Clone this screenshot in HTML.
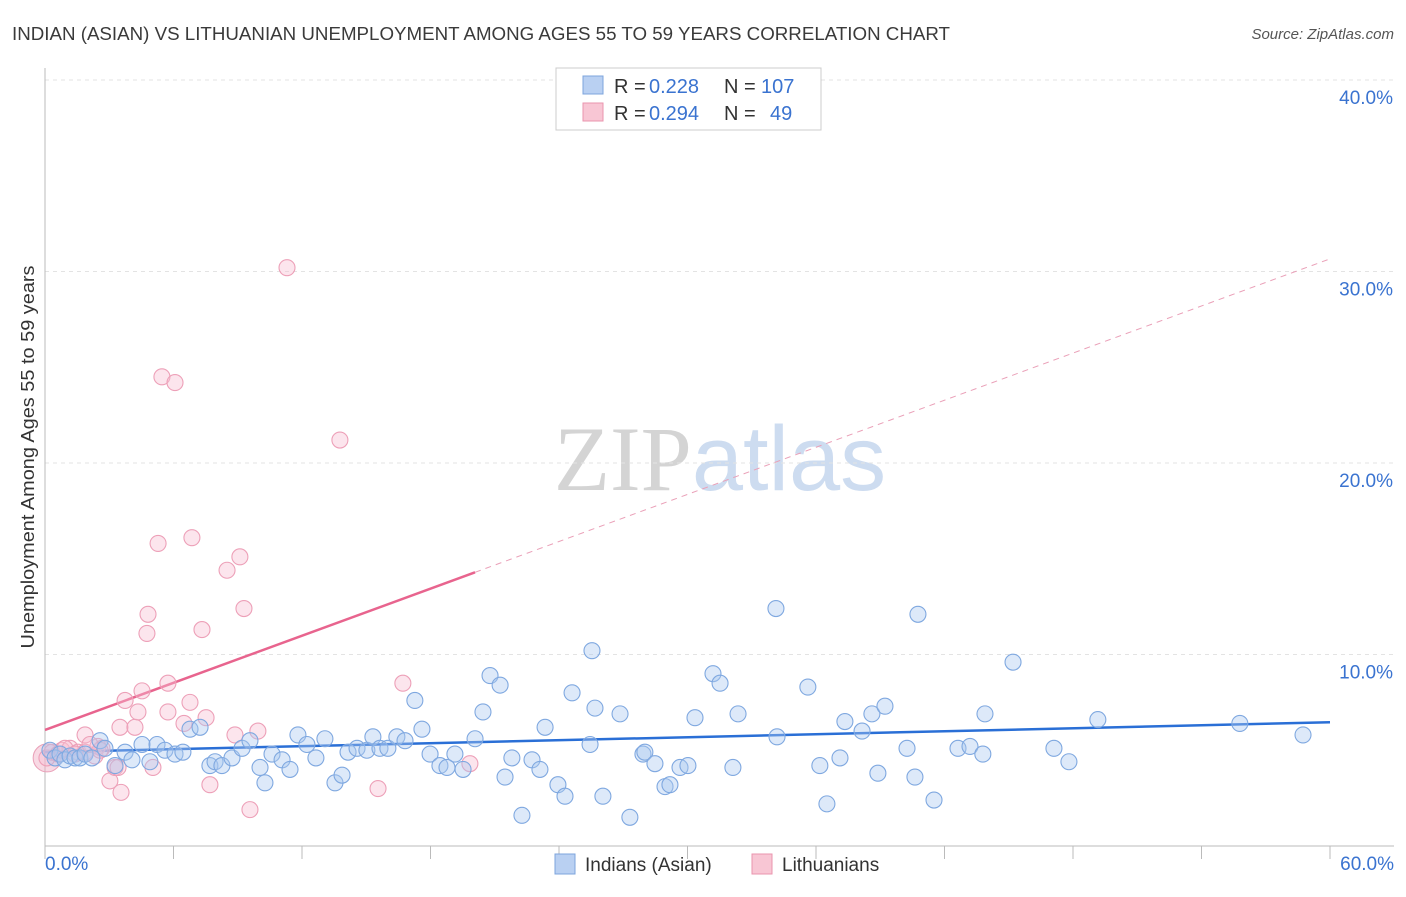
<!DOCTYPE html>
<html><head><meta charset="utf-8">
<style>
body{margin:0;background:#fff;font-family:"Liberation Sans",sans-serif;}
svg text{font-family:"Liberation Sans",sans-serif;}
</style></head>
<body>
<svg id="chart" width="1406" height="892" xmlns="http://www.w3.org/2000/svg" xml:space="preserve">
<text x="12" y="40" font-size="18" fill="#3a3a3a" textLength="938" lengthAdjust="spacingAndGlyphs">INDIAN (ASIAN) VS LITHUANIAN UNEMPLOYMENT AMONG AGES 55 TO 59 YEARS CORRELATION CHART</text>
<text x="1394" y="39" font-size="15" fill="#555" text-anchor="end" font-style="italic">Source: ZipAtlas.com</text>
<text x="720" y="490" font-size="92" text-anchor="middle" fill="#ddd"><tspan font-family="Liberation Serif" fill="#d4d4d4">ZIP</tspan><tspan fill="#cddcf0">atlas</tspan></text>
<g id="grid"></g>
<g id="axes"></g>
<g id="trends"></g>
<g id="points"></g>
<text transform="translate(34,457) rotate(-90)" font-size="18" fill="#333" text-anchor="middle" textLength="383" lengthAdjust="spacingAndGlyphs">Unemployment Among Ages 55 to 59 years</text>
<g>
<rect x="556" y="68" width="265" height="62" fill="#fff" stroke="#ccc"/>
<rect x="583" y="76" width="20" height="18" fill="#b9d0f2" stroke="#7da4dc"/>
<rect x="583" y="103" width="20" height="18" fill="#f8c6d4" stroke="#ea94ae"/>
<text x="614" y="93" font-size="20" fill="#333">R = </text><text x="649" y="93" font-size="20" fill="#3a73d0">0.228</text>
<text x="724" y="93" font-size="20" fill="#333">N = </text><text x="761" y="93" font-size="20" fill="#3a73d0">107</text>
<text x="614" y="120" font-size="20" fill="#333">R = </text><text x="649" y="120" font-size="20" fill="#3a73d0">0.294</text>
<text x="724" y="120" font-size="20" fill="#333">N = </text><text x="770" y="120" font-size="20" fill="#3a73d0">49</text>
</g>
<g>
<rect x="555" y="854" width="20" height="20" fill="#b9d0f2" stroke="#7da4dc"/>
<text x="585" y="871" font-size="19" fill="#333">Indians (Asian)</text>
<rect x="752" y="854" width="20" height="20" fill="#f8c6d4" stroke="#ea94ae"/>
<text x="782" y="871" font-size="19" fill="#333">Lithuanians</text>
</g>
</svg>
<script>
const blueX=[0.23,0.47,0.70,0.93,1.17,1.40,1.63,1.87,2.19,2.57,2.80,3.27,3.74,4.06,4.53,4.90,5.23,5.60,6.07,6.44,6.77,7.24,7.70,7.94,8.26,8.73,9.20,9.57,10.04,10.27,10.60,11.07,11.44,11.81,12.23,12.65,13.07,13.54,13.87,14.15,14.57,15.03,15.31,15.64,16.01,16.43,16.81,17.27,17.60,17.98,18.44,18.77,19.14,19.52,20.08,20.45,20.78,21.25,21.48,21.80,22.27,22.74,23.11,23.35,23.95,24.28,24.61,25.45,25.54,25.68,26.05,26.85,27.31,27.92,28.01,28.48,28.95,29.18,29.65,30.02,30.35,31.19,31.52,32.12,32.36,34.13,34.18,35.62,36.18,36.51,37.12,37.35,38.15,38.61,38.89,39.22,40.25,40.62,40.76,41.51,42.63,43.19,43.79,43.89,45.20,47.11,47.81,49.16,55.79,58.74];
const blueY=[5.0,4.6,4.8,4.5,4.7,4.6,4.6,4.8,4.6,5.5,5.1,4.2,4.9,4.5,5.3,4.4,5.3,5.0,4.8,4.9,6.1,6.2,4.2,4.4,4.2,4.6,5.1,5.5,4.1,3.3,4.8,4.5,4.0,5.8,5.3,4.6,5.6,3.3,3.7,4.9,5.1,5.0,5.7,5.1,5.1,5.7,5.5,7.6,6.1,4.8,4.2,4.1,4.8,4.0,5.6,7.0,8.9,8.4,3.6,4.6,1.6,4.5,4.0,6.2,3.2,2.6,8.0,5.3,10.2,7.2,2.6,6.9,1.5,4.8,4.9,4.3,3.1,3.2,4.1,4.2,6.7,9.0,8.5,4.1,6.9,12.4,5.7,8.3,4.2,2.2,4.6,6.5,6.0,6.9,3.8,7.3,5.1,3.6,12.1,2.4,5.1,5.2,4.8,6.9,9.6,5.1,4.4,6.6,6.4,5.8];
const pinkX=[0.09,0.33,0.61,0.79,1.17,1.54,1.87,2.33,2.47,2.66,3.03,3.27,3.55,3.74,3.50,4.20,4.34,4.53,4.76,4.81,5.04,5.28,5.46,5.74,5.74,6.07,6.49,6.77,6.86,7.33,7.52,7.70,8.50,8.87,9.10,9.29,9.57,9.94,11.30,13.77,15.55,16.71,19.84,1.87,2.57,0.93,1.40,2.10,3.41];
const pinkY=[4.6,4.9,4.8,5.0,5.1,4.9,4.9,4.7,5.2,5.1,3.4,4.1,2.8,7.6,6.2,6.2,7.0,8.1,11.1,12.1,4.1,15.8,24.5,7.0,8.5,24.2,6.4,7.5,16.1,11.3,6.7,3.2,14.4,5.8,15.1,12.4,1.9,6.0,30.2,21.2,3.0,8.5,4.3,5.8,5.0,5.1,4.8,5.3,4.1];
const blueTrend=[4.9,0.026];
const pinkTrend=[6.06,0.41];
const pinkSolidEnd=[20.08];
const xTicks=[0,6,12,18,24,30,36,42,48,54,60];
const yTicks=[10,20,30,40];
const yTickLabels=["10.0%","20.0%","30.0%","40.0%"];

const NS="http://www.w3.org/2000/svg";
const X0=45,X1=1330,Y0=846,PPY=19.15;
function sx(v){return X0+(v/60)*(X1-X0);}
function sy(v){return Y0-v*PPY;}
function mk(tag,attrs,parent){const e=document.createElementNS(NS,tag);for(const k in attrs)e.setAttribute(k,attrs[k]);parent.appendChild(e);return e;}
const grid=document.getElementById('grid'),axes=document.getElementById('axes'),trends=document.getElementById('trends'),pts=document.getElementById('points');
yTicks.forEach((t,i)=>{
  const l=mk('line',{x1:X0,x2:1394,y1:sy(t),y2:sy(t),stroke:'#e3e3e3','stroke-dasharray':'4,4'},grid);
  
  
  const tx=mk('text',{x:1393,y:sy(t)+24,'font-size':19,fill:'#3a73d0','text-anchor':'end'},axes);
  tx.textContent=yTickLabels[i];
  
  
});
const al=mk('line',{x1:X0,x2:X0,y1:68,y2:Y0,stroke:'#bbb'},axes);


const bl=mk('line',{x1:X0,x2:1394,y1:Y0,y2:Y0,stroke:'#bbb'},axes);


xTicks.forEach(t=>{
  const l=mk('line',{x1:sx(t),x2:sx(t),y1:Y0,y2:Y0+13,stroke:'#bbb'},axes);
  
  
});
const xl0=mk('text',{x:45,y:870,'font-size':19,fill:'#3a73d0'},axes);xl0.textContent='0.0%';


const xl1=mk('text',{x:1394,y:870,'font-size':19,fill:'#3a73d0','text-anchor':'end'},axes);xl1.textContent='60.0%';



function dot(x,y,fill,stroke,name){
  const c=mk('circle',{cx:sx(x),cy:sy(y),r:8,fill:fill,stroke:stroke,'stroke-width':1.1},pts);
  
  
}
const big=mk('circle',{cx:sx(0.1),cy:sy(4.6),r:14,fill:'rgba(240,170,195,0.45)',stroke:'#e9a0b8'},pts);


pinkX.forEach((x,i)=>dot(x,pinkY[i],'rgba(248,190,210,0.4)','#eda0b8','point-lithuanians'));
blueX.forEach((x,i)=>dot(x,blueY[i],'rgba(170,200,240,0.4)','#7fa8e0','point-indians'));

const bt=mk('line',{x1:sx(0),y1:sy(blueTrend[0]),x2:sx(60),y2:sy(blueTrend[0]+60*blueTrend[1]),stroke:'#2a6fd6','stroke-width':2.5},trends);


const e=pinkSolidEnd[0];
const pt=mk('line',{x1:sx(0),y1:sy(pinkTrend[0]),x2:sx(e),y2:sy(pinkTrend[0]+e*pinkTrend[1]),stroke:'#e8648e','stroke-width':2.5},trends);


const pd=mk('line',{x1:sx(e),y1:sy(pinkTrend[0]+e*pinkTrend[1]),x2:sx(60),y2:sy(pinkTrend[0]+60*pinkTrend[1]),stroke:'#eaa0b8','stroke-width':1,'stroke-dasharray':'6,5'},trends);


</script>
</body></html>
